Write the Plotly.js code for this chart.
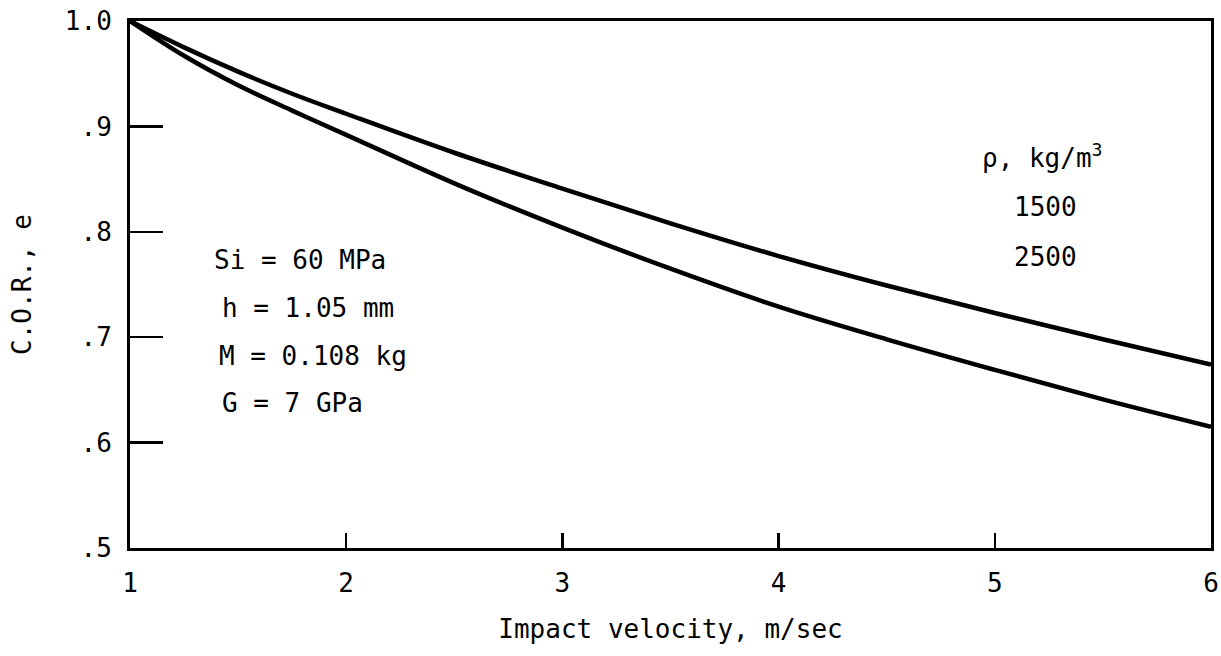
<!DOCTYPE html>
<html>
<head>
<meta charset="utf-8">
<script src="https://cdn.plot.ly/plotly-3.0.1.min.js"></script>
<style>html,body{margin:0;padding:0;background:#fff;}#chart{width:1221px;height:656px;}</style>
</head>
<body>
<div id="chart"></div>
<script>
// Impact velocity (m/sec)
const velocity = [1, 1.25, 1.5, 1.75, 2, 2.5, 3, 3.5, 4, 4.5, 5, 5.5, 6];
// Coefficient of restitution for density 1500 kg/m^3
const cor1500 = [1.0, 0.975, 0.952, 0.931, 0.912, 0.875, 0.841, 0.808, 0.777, 0.749, 0.723, 0.698, 0.674];
// Coefficient of restitution for density 2500 kg/m^3
const cor2500 = [1.0, 0.967, 0.939, 0.915, 0.892, 0.846, 0.804, 0.765, 0.729, 0.698, 0.669, 0.641, 0.615];

const xTickVals = [1, 2, 3, 4, 5, 6];
const xTickText = ['1', '2', '3', '4', '5', '6'];
const yTickVals = [0.5, 0.6, 0.7, 0.8, 0.9, 1.0];
const yTickText = ['.5', '.6', '.7', '.8', '.9', '1.0'];

const paramLines = ['Si = 60 MPa', 'h = 1.05 mm', 'M = 0.108 kg', 'G = 7 GPa'];
const densityTitle = 'ρ, kg/m<sup>3</sup>';
const densityLabels = ['1500', '2500'];

const FONT = 'DejaVu Sans Mono, Liberation Mono, monospace';

const traces = [
  {x: velocity, y: cor1500, mode: 'lines', name: '1500',
   line: {color: '#000', width: 4.5, shape: 'spline', smoothing: 1}},
  {x: velocity, y: cor2500, mode: 'lines', name: '2500',
   line: {color: '#000', width: 4.5, shape: 'spline', smoothing: 1}}
];

// annotation placement (text positions only)
const paramX = [1.379, 1.416, 1.402, 1.416];
const paramY = [0.773, 0.728, 0.682, 0.638];
const annotations = paramLines.map((t, i) => ({
  text: t, x: paramX[i], y: paramY[i], xref: 'x', yref: 'y',
  xanchor: 'left', yanchor: 'middle', showarrow: false,
  font: {family: FONT, size: 26, color: '#000'}
}));
annotations.push({text: densityTitle, x: 4.93, y: 0.872, xref: 'x', yref: 'y',
  xanchor: 'left', yanchor: 'middle', showarrow: false,
  font: {family: FONT, size: 26, color: '#000'}});
const densX = [5.08, 5.08];
const densY = [0.824, 0.776];
densityLabels.forEach((t, i) => annotations.push({text: t, x: densX[i], y: densY[i],
  xref: 'x', yref: 'y', xanchor: 'left', yanchor: 'middle', showarrow: false,
  font: {family: FONT, size: 26, color: '#000'}}));

const layout = {
  width: 1221, height: 656,
  margin: {l: 130, r: 10, t: 21, b: 108},
  paper_bgcolor: '#fff', plot_bgcolor: '#fff',
  showlegend: false,
  font: {family: FONT, size: 26, color: '#000'},
  xaxis: {
    range: [1, 6], tickvals: xTickVals, ticktext: xTickText,
    ticks: 'inside', ticklen: 15, tickwidth: 2.5, tickcolor: '#000',
    showline: true, linewidth: 3, linecolor: '#000', mirror: true,
    showgrid: false, zeroline: false, ticklabelstandoff: 10,
    tickfont: {family: FONT, size: 26, color: '#000'},
    title: {text: 'Impact velocity, m/sec', font: {family: FONT, size: 26, color: '#000'}, standoff: 23}
  },
  yaxis: {
    range: [0.5, 1.0], tickvals: yTickVals, ticktext: yTickText,
    ticks: 'inside', ticklen: 33, tickwidth: 2.5, tickcolor: '#000',
    showline: true, linewidth: 3, linecolor: '#000', mirror: true,
    showgrid: false, zeroline: false, ticklabelstandoff: 10,
    tickfont: {family: FONT, size: 26, color: '#000'},
    title: {text: 'C.O.R., e', font: {family: FONT, size: 26, color: '#000'}, standoff: 26}
  },
  annotations: annotations
};

Plotly.newPlot('chart', traces, layout, {displayModeBar: false, staticPlot: true});
</script>
</body>
</html>
